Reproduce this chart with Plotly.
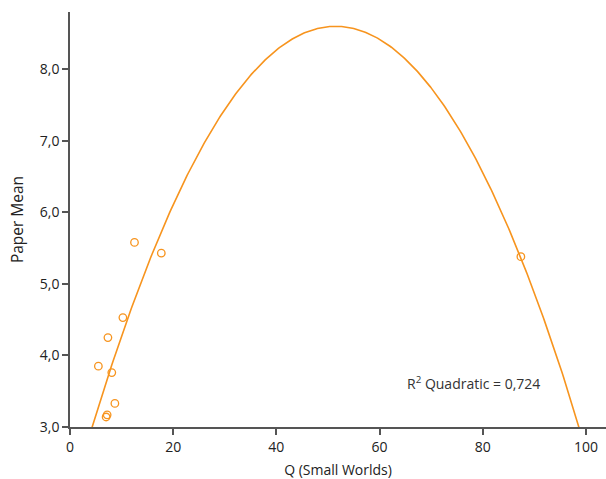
import numpy as np
import plotly.graph_objects as go

# Observed points
q_small_worlds = [5.5, 7.35, 8.1, 8.7, 7.2, 7.0, 10.25, 12.5, 17.7, 87.4]
paper_mean = [3.85, 4.25, 3.76, 3.33, 3.17, 3.14, 4.53, 5.58, 5.43, 5.38]

# Quadratic fit coefficients (y = b0 + b1*x + b2*x^2)
b0, b1, b2 = 1.935, 0.25884, -0.002513
r2_label = "R<sup>2</sup> Quadratic = 0,724"

x_ticks = [0, 20, 40, 60, 80, 100]
y_ticks = [3.0, 4.0, 5.0, 6.0, 7.0, 8.0]

orange = "#F7941E"
fx = np.linspace(0, 104, 400)
fy = b0 + b1 * fx + b2 * fx ** 2

fig = go.Figure()
fig.add_trace(go.Scatter(x=fx, y=fy, mode="lines",
                         line=dict(color=orange, width=1.6), hoverinfo="skip"))
fig.add_trace(go.Scatter(x=q_small_worlds, y=paper_mean, mode="markers",
                         marker=dict(symbol="circle-open", size=7.5, color=orange,
                                     line=dict(width=1.3, color=orange))))
fig.add_annotation(x=64.9, y=3.61, xref="x", yref="y", text=r2_label,
                   showarrow=False, xanchor="left", yanchor="middle",
                   font=dict(size=14, color="#333333"))

axis_font = dict(family="Open Sans, Noto Sans, sans-serif", size=14, color="#222222")
fig.update_layout(
    width=606, height=479,
    margin=dict(l=70, r=0, t=12, b=52),
    paper_bgcolor="white", plot_bgcolor="white",
    showlegend=False,
    separators=",.",
    font=dict(family="Open Sans, Noto Sans, sans-serif", size=14, color="#222222"),
    xaxis=dict(range=[0, 103.9], tickvals=x_ticks, showgrid=False, zeroline=False,
               showline=True, linecolor="#555555", linewidth=1.5, automargin=False,
               ticks="outside", ticklen=6, tickcolor="#555555", tickwidth=1.5,
               tickfont=axis_font,
               title=dict(text="Q (Small Worlds)",
                          font=dict(family="Open Sans, Noto Sans, sans-serif", size=14,
                                    color="#222222"), standoff=14)),
    yaxis=dict(range=[3.0, 8.8], tickvals=y_ticks, tickformat=".1f", showgrid=False,
               zeroline=False, showline=True, linecolor="#555555", linewidth=1.5,
               automargin=False,
               ticks="outside", ticklen=6, tickcolor="#555555", tickwidth=1.5,
               tickfont=axis_font,
               title=dict(text="Paper Mean",
                          font=dict(family="Open Sans, Noto Sans, sans-serif", size=15.5,
                                    color="#222222"), standoff=12)),
)
fig.write_html("out.html", config={"displayModeBar": False},
               post_script="document.body.style.margin='0px';document.body.style.padding='0px';")
